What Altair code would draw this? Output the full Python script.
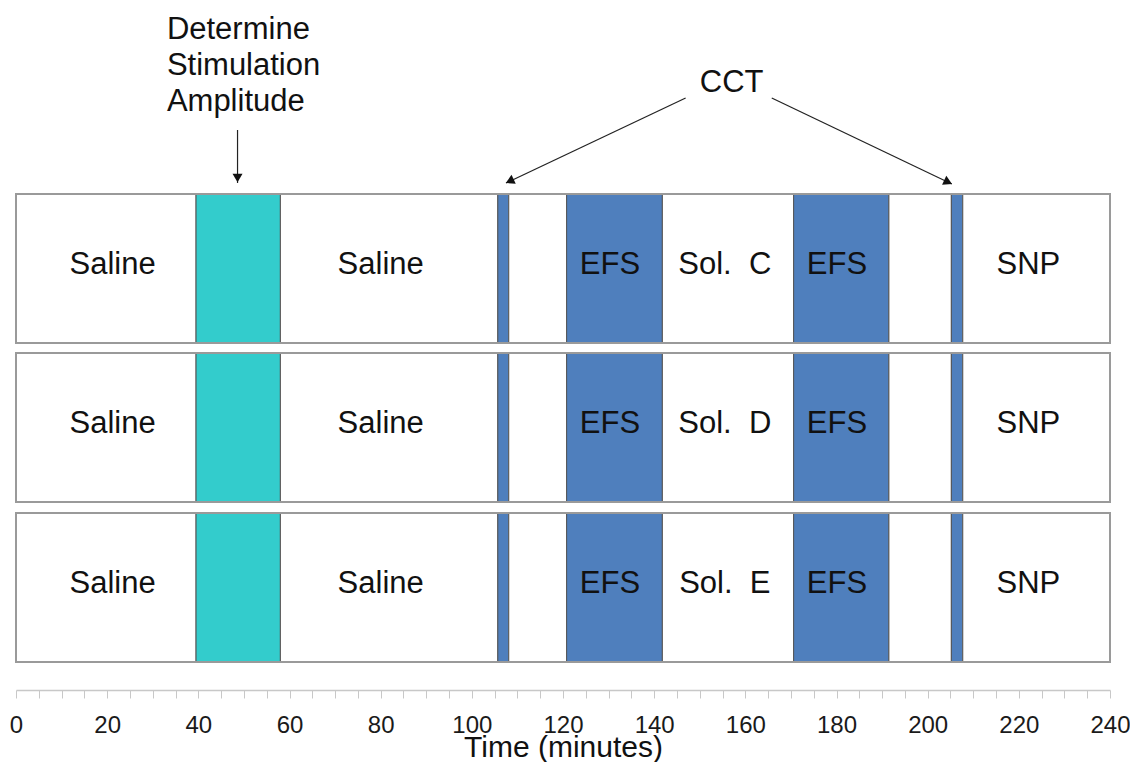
import altair as alt
import pandas as pd

# ---- data -------------------------------------------------------------
rows = ["C", "D", "E"]
row_bottom = [347, 188, 28]          # lane units (vertical), bottom of each row
row_top = [496, 337, 177]

seg_start = [0, 39.5, 58, 105.7, 108.1, 120.8, 141.8, 170.6, 191.5, 205.2, 207.7]
seg_end = [39.5, 58, 105.7, 108.1, 120.8, 141.8, 170.6, 191.5, 205.2, 207.7, 240]
seg_kind = ["saline", "stim", "saline", "cct", "blank", "efs", "sol", "efs",
            "blank", "cct", "snp"]

label_text = ["Saline", "Saline", "EFS", "Sol.\u00a0\u00a0{}", "EFS", "SNP"]
label_x = [21.2, 80.0, 130.3, 155.5, 180.1, 222.1]

kinds = ["saline", "stim", "cct", "blank", "efs", "sol", "snp"]
kind_colors = ["#ffffff", "#33cccc", "#4f7fbd", "#ffffff", "#4f7fbd", "#ffffff", "#ffffff"]

det_lines = ["Determine", "Stimulation", "Amplitude"]
det_y = [651, 615, 579]
det_x = [33.1, 33.1, 33.1]

cct_text = ["CCT"]
cct_x = [157.0]
cct_y = [598]

arrow_x = [48.6, 146.9, 165.8]
arrow_y = [560, 592, 592]
arrow_x2 = [48.6, 107.5, 205.3]
arrow_y2 = [507, 507, 506]
head_x = [48.6, 108.6, 204.2]
head_y = [512, 509.5, 508.5]
head_shape = ["triangle-down", "triangle", "triangle"]
head_angle = [0, 245, 115]

tick_values = list(range(0, 241, 5))

# ---- tables -----------------------------------------------------------
seg_rows = []
for r, b, t in zip(rows, row_bottom, row_top):
    for s, e, k in zip(seg_start, seg_end, seg_kind):
        seg_rows.append({"row": r, "start": s, "end": e, "kind": k, "y0": b, "y1": t})
seg_df = pd.DataFrame(seg_rows)

box_df = pd.DataFrame({"row": rows, "start": [0] * 3, "end": [240] * 3,
                       "y0": row_bottom, "y1": row_top})

lab_rows = []
for r, b, t in zip(rows, row_bottom, row_top):
    for txt, x in zip(label_text, label_x):
        lab_rows.append({"text": txt.format(r), "x": x, "y": (b + t) / 2})
lab_df = pd.DataFrame(lab_rows)

det_df = pd.DataFrame({"text": det_lines, "x": det_x, "y": det_y})
cct_df = pd.DataFrame({"text": cct_text, "x": cct_x, "y": cct_y})
arrow_df = pd.DataFrame({"x": arrow_x, "y": arrow_y, "x2": arrow_x2, "y2": arrow_y2})
head_df = pd.DataFrame({"x": head_x, "y": head_y, "shape": head_shape, "angle": head_angle})

xscale = alt.Scale(domain=[0, 240], nice=False, zero=False)
yscale = alt.Scale(domain=[0, 682], nice=False, zero=False)

xaxis = alt.Axis(
    values=tick_values,
    labelExpr="datum.value % 20 === 0 ? datum.label : ''",
    labelOverlap=False,
    labelFlush=False,
    tickSize=8,
    tickColor="#c8c8c8",
    domainColor="#c8c8c8",
    domainWidth=1.5,
    labelFontSize=24,
    labelColor="#1a1a1a",
    labelBaseline="alphabetic",
    labelPadding=34,
    title="Time (minutes)",
    titleFontSize=30,
    titleFontWeight="normal",
    titleColor="#111111",
    titleBaseline="alphabetic",
    titleY=66,
    grid=False,
)


def X(field):
    return alt.X(field, type="quantitative", scale=xscale, axis=xaxis)


def Y(field):
    return alt.Y(field, type="quantitative", scale=yscale, axis=None)


segs = alt.Chart(seg_df).mark_rect(stroke="#555555", strokeWidth=1).encode(
    x=X("start"),
    x2="end:Q",
    y=Y("y0"),
    y2="y1:Q",
    fill=alt.Fill("kind:N", scale=alt.Scale(domain=kinds, range=kind_colors), legend=None),
)

boxes = alt.Chart(box_df).mark_rect(fillOpacity=0, stroke="#9a9a9a", strokeWidth=2).encode(
    x=X("start"),
    x2="end:Q",
    y=Y("y0"),
    y2="y1:Q",
)

labels = alt.Chart(lab_df).mark_text(
    fontSize=31, baseline="alphabetic", align="center", dy=5, color="#111111"
).encode(x=X("x"), y=Y("y"), text="text:N")

det = alt.Chart(det_df).mark_text(
    fontSize=31, baseline="alphabetic", align="left", color="#111111"
).encode(x=X("x"), y=Y("y"), text="text:N")

cct = alt.Chart(cct_df).mark_text(
    fontSize=31, baseline="alphabetic", align="center", color="#111111"
).encode(x=X("x"), y=Y("y"), text="text:N")

arrows = alt.Chart(arrow_df).mark_rule(color="#222222", strokeWidth=1.2).encode(
    x=X("x"),
    y=Y("y"),
    x2="x2:Q",
    y2="y2:Q",
)

heads = alt.Chart(head_df).mark_point(filled=True, color="#111111", size=100, opacity=1).encode(
    x=X("x"),
    y=Y("y"),
    shape=alt.Shape("shape:N", scale=None, legend=None),
    angle=alt.Angle("angle:Q", scale=None),
)

chart = alt.layer(segs, boxes, labels, det, cct, arrows, heads).properties(
    width=1094,
    height=682,
    padding={"left": 8, "top": 0, "right": 20, "bottom": 72},
    autosize=alt.AutoSizeParams(type="none"),
).configure(
    font="Liberation Sans",
    view=alt.ViewConfig(stroke=None),
)

chart.save("out.html", embed_options={"renderer": "svg", "actions": False})
